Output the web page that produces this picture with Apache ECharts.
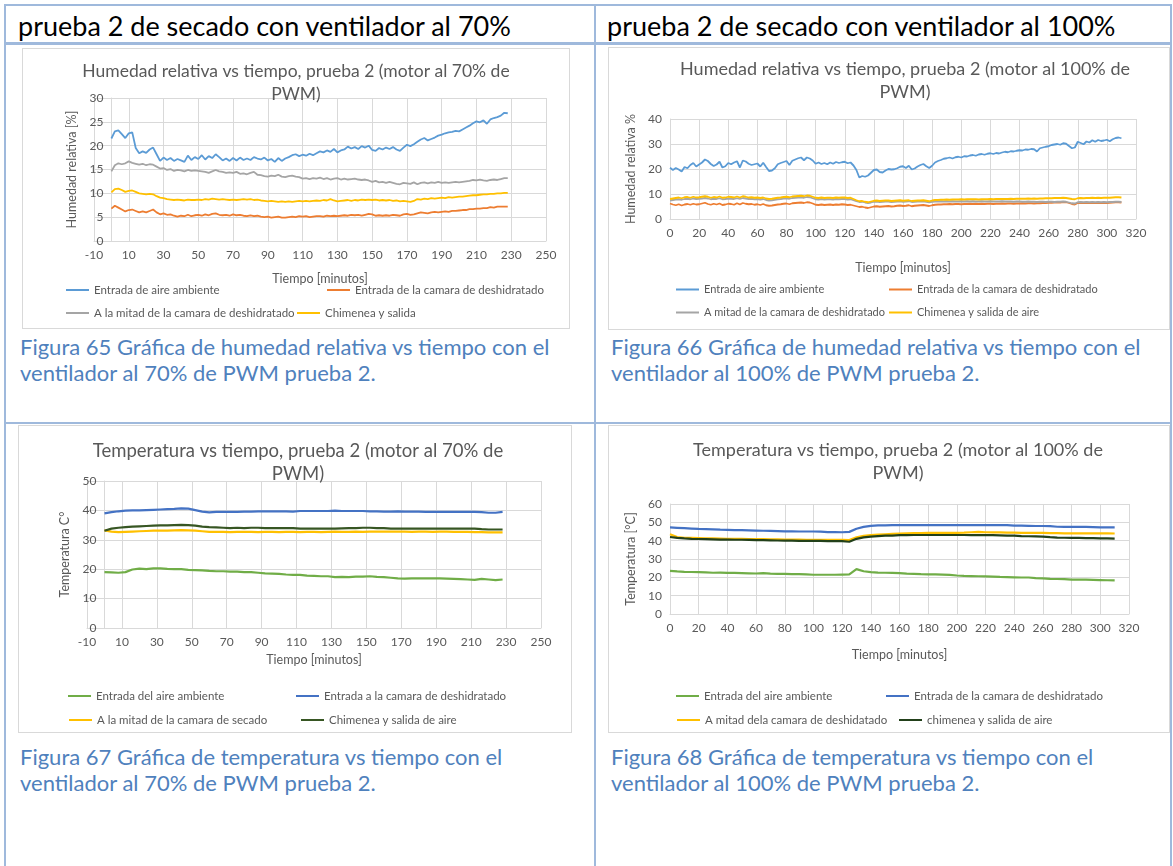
<!DOCTYPE html>
<html lang="es">
<head>
<meta charset="utf-8">
<title>Prueba 2 de secado</title>
<script src="https://cdn.jsdelivr.net/npm/echarts@6/dist/echarts.min.js"></script>
<style>
  html, body { margin: 0; padding: 0; background: #fff; }
  #page { position: relative; width: 1173px; height: 866px; overflow: hidden; font-family: Lato, "Liberation Sans", sans-serif; }
  .rule { position: absolute; background: #9fb9dc; }
  .head { position: absolute; top: 10px; font-size: 27px; line-height: 32px; color: #000; white-space: nowrap; }
  .cap { position: absolute; font-size: 22px; line-height: 26px; color: #4f81bd; white-space: nowrap; }
  .chart { position: absolute; border: 1px solid #d9d9d9; box-sizing: border-box; background: #fff; }
</style>
</head>
<body>
<div id="page">
  <!-- table rules -->
  <div class="rule" style="left:4px; top:4px; width:1168px; height:2px"></div>
  <div class="rule" style="left:4px; top:42px; width:1168px; height:3px"></div>
  <div class="rule" style="left:4px; top:422px; width:1168px; height:2px"></div>
  <div class="rule" style="left:4px; top:4px; width:2px; height:862px"></div>
  <div class="rule" style="left:594px; top:4px; width:2px; height:862px"></div>
  <div class="rule" style="left:1170px; top:4px; width:2px; height:862px"></div>

  <div class="head" style="left:18px">prueba 2 de secado con ventilador al 70%</div>
  <div class="head" style="left:607px">prueba 2 de secado con ventilador al 100%</div>

  <div id="c1" class="chart" style="left:22px; top:48px; width:548px; height:281px"></div>
  <div id="c2" class="chart" style="left:608px; top:47px; width:562px; height:283px"></div>
  <div id="c3" class="chart" style="left:18px; top:425px; width:554px; height:308px"></div>
  <div id="c4" class="chart" style="left:608px; top:425px; width:562px; height:308px"></div>

  <div class="cap" style="left:20px; top:334px">Figura 65 Gráfica de humedad relativa vs tiempo con el<br>ventilador al 70% de PWM prueba 2.</div>
  <div class="cap" style="left:611px; top:334px">Figura 66 Gráfica de humedad relativa vs tiempo con el<br>ventilador al 100% de PWM prueba 2.</div>
  <div class="cap" style="left:20px; top:744px">Figura 67 Gráfica de temperatura vs tiempo con el<br>ventilador al 70% de PWM prueba 2.</div>
  <div class="cap" style="left:611px; top:744px">Figura 68 Gráfica de temperatura vs tiempo con el<br>ventilador al 100% de PWM prueba 2.</div>
</div>

<script>
// ---------- Humedad relativa, motor al 70% (minutos / %) ----------
const hr70Time = [
  0,2,4,6,8,10,12,14,16,18, 20,22,24,26,28,30,32,34,36,38,
  40,42,44,46,48,50,52,54,56,58, 60,62,64,66,68,70,72,74,76,78,
  80,82,84,86,88,90,92,94,96,98, 100,102,104,106,108,110,112,114,116,118,
  120,122,124,126,128,130,132,134,136,138, 140,142,144,146,148,150,152,154,156,158,
  160,162,164,166,168,170,172,174,176,178, 180,182,184,186,188,190,192,194,196,198,
  200,202,204,206,208,210,212,214,216,218, 220,222,224,226,228
];
const hr70Ambiente = [
  21.5,23.0,23.2,22.4,21.6,22.6,22.8,19.5,18.4,18.8, 18.5,19.2,19.6,18.2,16.8,17.5,17.0,17.4,16.8,17.2,
  16.9,16.6,17.9,17.0,17.6,17.2,18.0,17.1,17.8,17.4, 18.2,17.6,16.9,17.3,16.8,17.4,16.9,17.5,17.0,17.3,
  17.0,17.6,17.3,17.1,17.5,16.9,17.2,16.6,17.4,16.8, 17.3,17.6,18.0,18.2,17.8,18.1,17.9,18.3,18.0,18.4,
  18.8,18.6,19.0,18.7,19.3,18.6,19.0,19.2,19.8,19.4, 19.7,19.3,19.9,19.6,20.0,19.1,18.9,19.5,19.2,19.6,
  19.3,19.7,19.2,18.9,19.6,20.2,19.9,20.3,20.8,21.3, 21.6,21.1,21.4,21.7,22.1,22.3,22.6,22.8,22.9,23.1,
  23.0,23.4,23.8,24.2,24.7,25.1,24.9,25.3,24.6,25.5, 25.8,26.0,26.3,26.9,26.8
];
const hr70EntradaCamara = [
  6.8,7.4,7.0,6.6,6.2,6.5,6.6,6.3,6.0,6.2, 6.0,6.3,6.6,6.0,5.6,5.8,5.5,5.6,5.3,5.1,
  5.3,5.2,5.5,5.2,5.4,5.5,5.3,5.6,5.4,5.7, 5.8,5.5,5.4,5.5,5.3,5.6,5.4,5.5,5.3,5.2,
  5.4,5.2,5.3,5.1,5.0,5.1,4.9,5.0,5.1,4.9, 4.9,5.0,5.1,5.0,5.2,5.1,5.2,5.0,5.1,5.2,
  5.2,5.1,5.3,5.2,5.3,5.2,5.3,5.4,5.3,5.5, 5.4,5.5,5.3,5.5,5.7,5.6,5.3,5.4,5.3,5.4,
  5.3,5.5,5.4,5.3,5.6,5.7,5.5,5.6,5.8,6.0, 5.9,5.8,6.0,6.1,6.0,6.1,6.2,6.1,6.3,6.3,
  6.4,6.5,6.5,6.7,6.7,6.8,6.8,6.9,6.9,7.1, 7.0,7.2,7.2,7.2,7.2
];
const hr70Mitad = [
  14.6,15.9,16.3,16.1,16.3,16.7,16.4,16.2,16.0,16.2, 15.9,16.1,16.0,15.6,15.2,15.3,14.9,15.1,14.7,14.9,
  14.8,14.6,14.9,14.7,14.8,14.7,14.6,14.5,14.3,14.6, 14.9,14.6,14.5,14.3,14.4,14.3,14.5,14.1,14.2,14.0,
  14.3,14.5,13.9,13.8,13.6,13.5,13.7,13.6,13.9,13.5, 13.4,13.6,13.7,13.5,13.4,13.1,13.2,13.0,13.2,13.1,
  13.3,13.0,13.2,12.9,13.1,13.2,12.9,13.1,12.9,13.0, 13.1,12.9,12.8,12.9,12.7,12.4,12.6,12.3,12.4,12.2,
  12.4,12.2,12.0,11.9,12.2,12.1,12.0,12.3,11.9,12.2, 12.3,12.1,12.3,12.2,12.4,12.2,12.3,12.2,12.3,12.4,
  12.3,12.4,12.5,12.6,12.8,12.7,12.9,12.7,12.6,12.8, 12.9,12.8,13.0,13.2,13.2
];
const hr70Chimenea = [
  10.2,10.9,11.0,10.7,10.3,10.5,10.6,10.3,10.0,9.9, 9.8,9.9,9.8,9.4,9.1,9.0,8.8,8.7,8.6,8.7,
  8.6,8.5,8.7,8.6,8.6,8.7,8.6,8.8,8.7,8.9, 8.8,8.7,8.8,8.7,8.6,8.7,8.6,8.7,8.8,8.7,
  8.8,8.6,8.7,8.5,8.4,8.3,8.4,8.3,8.2,8.3, 8.2,8.3,8.2,8.3,8.4,8.3,8.4,8.3,8.4,8.5,
  8.4,8.6,8.5,8.8,8.5,8.3,8.4,8.5,8.6,8.4, 8.6,8.5,8.7,8.6,8.7,8.6,8.7,8.5,8.6,8.5,
  8.6,8.4,8.5,8.3,8.4,8.3,8.2,8.4,8.8,8.7, 8.9,8.8,9.0,8.9,9.0,9.1,9.0,9.2,9.1,9.2,
  9.3,9.3,9.4,9.5,9.6,9.6,9.7,9.8,9.8,9.9, 9.9,10.0,10.0,10.1,10.1
];

// ---------- Humedad relativa, motor al 100% (minutos / %) ----------
const hr100Time = [
  0,2,4,6,8,10,12,14,16,18, 20,22,24,26,28,30,32,34,36,38,
  40,42,44,46,48,50,52,54,56,58, 60,62,64,66,68,70,72,74,76,78,
  80,82,84,86,88,90,92,94,96,98, 100,102,104,106,108,110,112,114,116,118,
  120,122,124,126,128,130,132,134,136,138, 140,142,144,146,148,150,152,154,156,158,
  160,162,164,166,168,170,172,174,176,178, 180,182,184,186,188,190,192,194,196,198,
  200,202,204,206,208,210,212,214,216,218, 220,222,224,226,228,230,232,234,236,238,
  240,242,244,246,248,250,252,254,256,258, 260,262,264,266,268,270,272,274,276,278,
  280,282,284,286,288,290,292,294,296,298, 300,302,304,306,308,310
];
const hr100Ambiente = [
  20.5,19.6,20.4,19.8,19.0,20.8,20.3,21.6,22.4,21.0, 21.8,22.6,23.8,23.2,22.0,21.2,21.8,22.9,20.6,21.1,
  22.4,21.9,22.6,23.1,20.6,23.4,23.0,22.1,21.6,21.9, 22.2,21.0,22.5,20.8,19.2,19.4,20.3,21.9,22.4,22.8,
  23.2,21.6,23.3,23.8,24.3,24.6,23.5,24.6,24.2,23.4, 22.1,22.6,22.0,22.4,21.9,22.6,22.1,22.8,22.4,22.7,
  22.9,22.3,22.6,21.4,19.6,16.6,17.2,16.9,17.4,18.5, 19.6,19.8,18.8,18.6,19.4,20.0,19.8,19.9,20.3,20.9,
  21.1,20.4,21.3,19.8,20.2,21.0,21.6,22.0,21.1,20.4, 21.3,22.6,23.2,23.6,24.1,24.3,24.6,24.2,24.7,24.9,
  24.6,25.1,25.0,25.4,25.6,25.3,25.8,26.0,25.7,26.1, 26.3,26.0,26.4,26.2,26.6,26.9,26.7,27.1,27.0,27.3,
  27.5,27.4,27.8,27.7,28.0,27.9,27.0,28.3,28.6,28.9, 29.1,29.6,29.8,30.0,29.7,30.3,30.1,29.2,28.3,28.6,
  30.9,30.4,29.9,31.0,30.6,31.5,30.9,31.6,31.2,31.4, 31.7,31.1,31.9,32.4,32.6,32.3
];
const hr100EntradaCamara = [
  6.2,5.8,5.5,5.9,5.4,5.8,6.0,5.7,6.1,5.8, 5.9,6.2,6.5,6.0,5.7,6.1,5.8,6.2,5.6,5.8,
  6.1,6.0,5.7,6.3,5.8,6.4,6.1,5.9,6.0,5.7, 5.9,5.6,6.0,5.5,5.3,5.4,5.6,5.8,5.9,6.1,
  6.2,5.9,6.3,6.4,6.5,6.6,6.4,6.7,6.6,6.2, 5.7,5.6,5.8,5.6,5.7,5.8,5.6,5.8,5.7,5.9,
  5.8,5.6,5.7,5.4,5.1,4.8,4.9,4.6,4.4,4.7, 5.0,5.1,4.9,5.0,5.1,5.2,5.0,5.1,5.3,5.4,
  5.2,5.3,5.5,5.1,5.3,5.4,5.5,5.6,5.4,5.2, 5.5,5.7,5.8,5.8,5.9,5.9,6.0,5.9,6.0,6.0,
  5.9,6.0,6.0,6.1,6.0,6.1,6.0,6.1,6.0,6.1, 6.1,6.0,6.1,6.1,6.2,6.1,6.2,6.2,6.1,6.2,
  6.2,6.3,6.2,6.3,6.3,6.2,6.3,6.3,6.4,6.4, 6.5,6.5,6.6,6.7,6.6,6.8,6.7,6.4,6.0,5.8,
  6.4,6.5,6.4,6.5,6.4,6.5,6.4,6.5,6.4,6.5, 6.4,6.5,6.6,6.7,6.7,6.6
];
const hr100Mitad = [
  7.4,7.6,7.8,7.9,7.7,8.0,8.1,7.9,8.2,8.0, 8.1,8.2,8.4,8.2,7.9,8.1,8.0,8.3,7.9,8.0,
  8.2,8.1,8.0,8.3,8.0,8.4,8.2,8.0,8.1,7.9, 8.0,7.8,8.0,7.6,7.4,7.5,7.7,7.9,8.0,8.2,
  8.3,8.1,8.4,8.5,8.6,8.7,8.5,8.8,8.7,8.3, 7.9,7.8,8.0,7.8,7.9,7.9,7.8,8.0,7.9,8.0,
  8.0,7.8,7.9,7.5,7.1,6.8,6.9,6.6,6.4,6.6, 6.9,7.0,6.8,6.9,7.0,7.0,6.8,6.9,7.0,7.1,
  6.9,7.0,7.1,6.8,6.9,7.0,7.0,7.1,6.9,6.7, 6.9,7.0,7.0,7.1,7.0,7.1,7.0,7.1,7.0,7.0,
  7.1,7.0,7.1,7.0,7.1,7.0,7.0,7.1,7.0,7.0, 7.1,7.0,7.0,7.0,7.1,7.0,7.0,7.0,6.9,7.0,
  7.0,6.9,6.9,7.0,6.9,6.9,6.8,6.9,6.9,6.8, 6.9,6.9,6.8,6.9,6.9,7.0,6.9,6.6,6.3,6.2,
  6.7,6.8,6.7,6.8,6.7,6.8,6.7,6.8,6.7,6.8, 6.7,6.8,6.8,6.9,6.9,6.8
];
const hr100Chimenea = [
  8.0,8.2,8.4,8.6,8.3,8.7,8.8,8.5,8.9,8.6, 8.7,8.9,9.1,8.9,8.5,8.8,8.6,9.0,8.5,8.6,
  8.9,8.8,8.6,9.0,8.6,9.1,8.9,8.6,8.7,8.5, 8.6,8.4,8.6,8.2,8.0,8.1,8.3,8.5,8.6,8.8,
  8.9,8.7,9.0,9.1,9.2,9.3,9.1,9.4,9.3,8.9, 8.5,8.4,8.6,8.4,8.5,8.5,8.4,8.6,8.5,8.6,
  8.6,8.4,8.5,8.0,7.5,7.1,7.2,6.9,6.7,7.0, 7.3,7.4,7.2,7.3,7.4,7.4,7.2,7.3,7.4,7.5,
  7.3,7.4,7.5,7.2,7.3,7.4,7.4,7.5,7.3,7.1, 7.4,7.6,7.6,7.7,7.7,7.8,7.7,7.8,7.8,7.8,
  7.9,7.8,7.9,7.9,7.9,7.9,7.8,7.9,7.9,7.9, 8.0,7.9,8.0,8.0,8.0,8.0,8.0,8.1,8.0,8.1,
  8.1,8.1,8.1,8.2,8.1,8.2,8.1,8.2,8.2,8.3, 8.3,8.3,8.4,8.4,8.4,8.5,8.4,8.2,8.0,7.9,
  8.3,8.4,8.3,8.4,8.4,8.5,8.4,8.5,8.4,8.5, 8.5,8.5,8.6,8.7,8.7,8.6
];

// ---------- Temperatura, motor al 70% (minutos / °C) ----------
const t70Time = [
  0,4,8,12,16,20,24,28,32,36, 40,44,48,52,56,60,64,68,72,76,
  80,84,88,92,96,100,104,108,112,116, 120,124,128,132,136,140,144,148,152,156,
  160,164,168,172,176,180,184,188,192,196, 200,204,208,212,216,220,224,228
];
const t70Ambiente = [
  19.0,18.9,18.8,19.0,19.9,20.2,20.0,20.3,20.3,20.1, 20.0,20.0,19.8,19.7,19.6,19.4,19.3,19.3,19.2,19.2,
  19.0,19.0,18.8,18.6,18.5,18.4,18.2,18.1,18.1,17.8, 17.7,17.6,17.6,17.3,17.4,17.3,17.5,17.5,17.6,17.4,
  17.3,17.1,16.9,16.8,16.9,16.9,16.9,16.9,16.9,16.8, 16.7,16.6,16.5,16.4,16.7,16.5,16.3,16.5
];
const t70EntradaCamara = [
  39.0,39.4,39.7,39.9,40.0,40.0,40.1,40.2,40.3,40.4, 40.5,40.7,40.6,40.1,39.6,39.3,39.5,39.5,39.5,39.5,
  39.6,39.6,39.7,39.7,39.7,39.7,39.7,39.6,39.8,39.8, 39.8,39.8,39.8,39.9,39.8,39.8,39.8,39.8,39.7,39.7,
  39.6,39.6,39.7,39.6,39.6,39.6,39.5,39.5,39.5,39.5, 39.5,39.5,39.5,39.5,39.4,39.2,39.2,39.5
];
const t70Mitad = [
  33.2,32.8,32.6,32.7,32.8,32.9,33.0,33.1,33.1,33.1, 33.2,33.3,33.2,33.1,32.9,32.7,32.7,32.7,32.6,32.7,
  32.7,32.7,32.6,32.7,32.7,32.6,32.7,32.7,32.6,32.7, 32.7,32.6,32.7,32.8,32.7,32.7,32.8,32.7,32.8,32.8,
  32.8,32.8,32.8,32.8,32.7,32.8,32.8,32.7,32.8,32.8, 32.7,32.7,32.7,32.6,32.6,32.5,32.5,32.5
];
const t70Chimenea = [
  33.1,33.8,34.1,34.3,34.5,34.6,34.7,34.8,34.9,34.9, 35.0,35.1,35.0,34.8,34.5,34.3,34.2,34.1,34.0,34.1,
  34.0,34.1,34.1,34.0,34.0,34.0,34.0,34.0,33.8,33.8, 33.8,33.8,33.8,33.8,33.9,34.0,34.0,34.1,34.1,34.0,
  34.0,33.8,33.8,33.8,33.8,33.8,33.8,33.8,33.8,33.8, 33.8,33.8,33.8,33.8,33.6,33.5,33.5,33.5
];

// ---------- Temperatura, motor al 100% (minutos / °C) ----------
const t100Time = [
  0,5,10,15,20,25,30,35,40,45, 50,55,60,65,70,75,80,85,90,95,
  100,105,110,115,120,125,130,135,140,145, 150,155,160,165,170,175,180,185,190,195,
  200,205,210,215,220,225,230,235,240,245, 250,255,260,265,270,275,280,285,290,295,
  300,305,310
];
const t100Ambiente = [
  23.5,23.2,23.0,22.9,22.8,22.7,22.5,22.6,22.4,22.4, 22.3,22.2,22.1,22.3,22.0,21.9,21.9,21.8,21.8,21.6,
  21.4,21.4,21.4,21.4,21.5,21.6,24.5,23.3,22.8,22.6, 22.5,22.4,22.3,22.0,21.9,21.7,21.6,21.6,21.5,21.3,
  21.0,20.8,20.7,20.6,20.5,20.4,20.2,20.1,20.0,19.9, 19.9,19.6,19.4,19.2,19.1,19.0,18.8,18.7,18.7,18.6,
  18.5,18.4,18.3
];
const t100EntradaCamara = [
  47.2,47.0,46.8,46.6,46.4,46.3,46.2,46.0,45.9,45.8, 45.7,45.6,45.5,45.4,45.3,45.2,45.1,45.1,45.0,45.0,
  45.0,44.9,44.7,44.7,44.6,44.8,46.5,47.5,48.1,48.3, 48.3,48.5,48.5,48.5,48.5,48.5,48.5,48.5,48.5,48.5,
  48.5,48.5,48.5,48.5,48.5,48.5,48.5,48.5,48.2,48.2, 48.1,48.0,48.0,47.9,47.6,47.5,47.5,47.5,47.5,47.4,
  47.3,47.2,47.2
];
const t100Mitad = [
  43.5,42.0,41.6,41.5,41.4,41.3,41.2,41.1,41.0,41.0, 41.0,40.9,40.8,40.8,40.7,40.7,40.6,40.6,40.6,40.5,
  40.5,40.5,40.4,40.4,40.4,40.3,41.8,42.6,43.1,43.3, 43.5,43.7,43.9,44.0,44.1,44.1,44.2,44.2,44.2,44.3,
  44.3,44.4,44.6,44.8,44.6,44.5,44.5,44.4,44.4,44.3, 44.3,44.2,44.2,44.1,44.1,44.0,44.0,44.0,44.0,44.0,
  44.0,44.0,43.9
];
const t100Chimenea = [
  42.0,41.5,41.2,41.0,40.9,40.8,40.7,40.6,40.6,40.5, 40.5,40.4,40.3,40.3,40.2,40.1,40.0,40.0,39.9,39.9,
  39.9,39.9,39.8,39.8,39.8,39.4,41.0,41.8,42.2,42.5, 42.7,42.8,43.0,43.0,43.1,43.1,43.1,43.1,43.1,43.1,
  43.1,43.1,43.0,43.0,43.0,43.0,42.9,42.8,42.7,42.5, 42.4,42.3,42.2,41.9,41.7,41.6,41.5,41.5,41.4,41.4,
  41.3,41.2,41.1
];

// ---------- drawing ----------
const FONT = "Lato, 'Liberation Sans', sans-serif";
const TXT = '#595959';
const RULE = '#d9d9d9';

function pairs(t, v) { return t.map((x, i) => [x, v[i]]); }

function drawChart(id, cfg) {
  const chart = echarts.init(document.getElementById(id), null, { renderer: 'canvas' });
  // the vertical axis crosses the horizontal one at t = 0 minutes
  const yShift = -(0 - cfg.xMin) / (cfg.xMax - cfg.xMin) * cfg.grid.width;
  const axisBase = {
    type: 'value',
    nameLocation: 'middle',
    nameTextStyle: { fontFamily: FONT, fontSize: 12.5, color: TXT },
    axisLine: { show: true, onZero: false, lineStyle: { color: RULE, width: 1 } },
    axisTick: { show: false },
    axisLabel: { fontFamily: FONT, fontSize: 12, color: TXT, margin: 8 },
    splitLine: { show: true, lineStyle: { color: RULE, width: 1 } }
  };
  chart.setOption({
    animation: false,
    backgroundColor: '#fff',
    textStyle: { fontFamily: FONT },
    title: {
      text: cfg.title, left: cfg.titleX, top: cfg.titleTop, textAlign: 'center', padding: 0,
      textStyle: { fontFamily: FONT, fontSize: cfg.titleSize, fontWeight: 'normal', color: TXT, lineHeight: 23 }
    },
    grid: Object.assign({ containLabel: false, outerBoundsMode: 'none' }, cfg.grid),
    xAxis: Object.assign({}, axisBase, {
      min: cfg.xMin, max: cfg.xMax, interval: cfg.xStep,
      name: 'Tiempo [minutos]', nameGap: cfg.xNameGap
    }),
    yAxis: Object.assign({}, axisBase, {
      min: 0, max: cfg.yMax, interval: cfg.yStep, offset: yShift,
      name: cfg.yName, nameGap: cfg.yNameGap
    }),
    legend: cfg.series.map(s => ({
      data: [s.name], left: s.legend[0], top: s.legend[1],
      icon: 'rect', itemWidth: 23, itemHeight: 2, itemGap: 0, padding: 0,
      selectedMode: false,
      textStyle: { fontFamily: FONT, fontSize: cfg.legendSize, color: TXT }
    })),
    series: cfg.series.map(s => ({
      name: s.name, type: 'line', data: pairs(s.t, s.v),
      showSymbol: false, symbol: 'none', color: s.color,
      lineStyle: { color: s.color, width: s.width },
      emphasis: { disabled: true }
    }))
  });
}

drawChart('c1', {
  title: 'Humedad relativa vs tiempo, prueba 2 (motor al 70% de\nPWM)', titleX: 273, titleTop: 11, titleSize: 17.5,
  grid: { left: 71, top: 49, width: 452, height: 143 },
  xMin: -10, xMax: 250, xStep: 20, xNameGap: 31,
  yMax: 30, yStep: 5, yName: 'Humedad relativa [%]', yNameGap: 31, legendSize: 11.5,
  series: [
    { name: 'Entrada de aire ambiente', t: hr70Time, v: hr70Ambiente, color: '#5b9bd5', width: 1.8, legend: [43, 235] },
    { name: 'Entrada de la camara de deshidratado', t: hr70Time, v: hr70EntradaCamara, color: '#ed7d31', width: 1.8, legend: [304, 235] },
    { name: 'A la mitad de la camara de deshidratado', t: hr70Time, v: hr70Mitad, color: '#a5a5a5', width: 1.8, legend: [43, 258] },
    { name: 'Chimenea y salida', t: hr70Time, v: hr70Chimenea, color: '#ffc000', width: 1.8, legend: [274, 258] }
  ]
});

drawChart('c2', {
  title: 'Humedad relativa vs tiempo, prueba 2 (motor al 100% de\nPWM)', titleX: 296, titleTop: 10, titleSize: 18,
  grid: { left: 61, top: 71, width: 466, height: 100 },
  xMin: 0, xMax: 320, xStep: 20, xNameGap: 42,
  yMax: 40, yStep: 10, yName: 'Humedad relativa %', yNameGap: 19, legendSize: 11,
  series: [
    { name: 'Entrada de aire ambiente', t: hr100Time, v: hr100Ambiente, color: '#5b9bd5', width: 1.8, legend: [67, 236] },
    { name: 'Entrada de la camara de deshidratado', t: hr100Time, v: hr100EntradaCamara, color: '#ed7d31', width: 1.8, legend: [280, 236] },
    { name: 'A mitad de la camara de deshidratado', t: hr100Time, v: hr100Mitad, color: '#a5a5a5', width: 1.8, legend: [67, 259] },
    { name: 'Chimenea y salida de aire', t: hr100Time, v: hr100Chimenea, color: '#ffc000', width: 1.8, legend: [280, 259] }
  ]
});

drawChart('c3', {
  title: 'Temperatura vs tiempo, prueba 2 (motor al 70% de\nPWM)', titleX: 279, titleTop: 14, titleSize: 18.5,
  grid: { left: 68, top: 55, width: 454, height: 147 },
  xMin: -10, xMax: 250, xStep: 20, xNameGap: 25,
  yMax: 50, yStep: 10, yName: 'Temperatura C°', yNameGap: 31, legendSize: 11.5,
  series: [
    { name: 'Entrada del aire ambiente', t: t70Time, v: t70Ambiente, color: '#70ad47', width: 2.2, legend: [49, 264] },
    { name: 'Entrada a la camara de deshidratado', t: t70Time, v: t70EntradaCamara, color: '#4472c4', width: 2.2, legend: [277, 264] },
    { name: 'A la mitad de la camara de secado', t: t70Time, v: t70Mitad, color: '#ffc000', width: 2.2, legend: [50, 288] },
    { name: 'Chimenea y salida de aire', t: t70Time, v: t70Chimenea, color: '#375623', width: 2.2, legend: [282, 288] }
  ]
});

drawChart('c4', {
  title: 'Temperatura vs tiempo, prueba 2 (motor al 100% de\nPWM)', titleX: 289, titleTop: 13, titleSize: 18,
  grid: { left: 61, top: 78, width: 459, height: 110 },
  xMin: 0, xMax: 320, xStep: 20, xNameGap: 34,
  yMax: 60, yStep: 10, yName: 'Temperatura [°C]', yNameGap: 28, legendSize: 11.5,
  series: [
    { name: 'Entrada del aire ambiente', t: t100Time, v: t100Ambiente, color: '#70ad47', width: 2.2, legend: [67, 264] },
    { name: 'Entrada de la camara de deshidratado', t: t100Time, v: t100EntradaCamara, color: '#4472c4', width: 2.2, legend: [277, 264] },
    { name: 'A mitad dela camara de deshidatado', t: t100Time, v: t100Mitad, color: '#ffc000', width: 2.2, legend: [68, 288] },
    { name: 'chimenea y salida de aire', t: t100Time, v: t100Chimenea, color: '#22401a', width: 2.2, legend: [290, 288] }
  ]
});
</script>
</body>
</html>
